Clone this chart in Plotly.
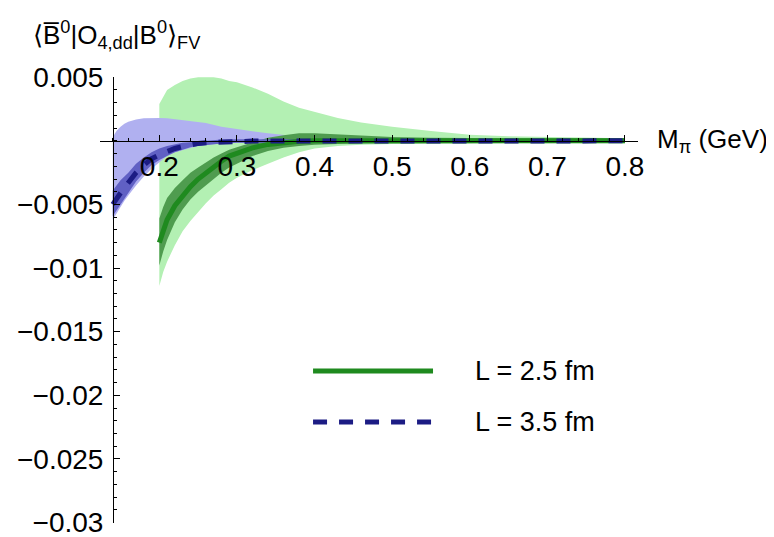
import plotly.graph_objects as go

# ---------------- data ----------------
# L = 2.5 fm  (green)
M_g = [0.2, 0.205, 0.21, 0.22, 0.23, 0.24, 0.25, 0.26, 0.27, 0.28, 0.29, 0.3,
       0.32, 0.34, 0.36, 0.38, 0.4, 0.43, 0.46, 0.5, 0.55, 0.6, 0.65, 0.7, 0.75, 0.8]
g_center = [-0.0080, -0.0070, -0.0062, -0.0051, -0.0043, -0.0036, -0.0030, -0.0025,
            -0.0020, -0.0016, -0.0012, -0.00095, -0.00055, -0.00028, -0.00012,
            -0.00004, 0.0, 0.00003, 0.00002, 0.00001, 0.0, 0.0, 0.0, 0.0, 0.0, 0.0]
g_inner_hi = [-0.0061, -0.0052, -0.0045, -0.0037, -0.0031, -0.0025, -0.0021, -0.0017,
              -0.0013, -0.0010, -0.0007, -0.0005, -0.0001, 0.00025, 0.00045, 0.0006,
              0.0006, 0.0005, 0.0004, 0.0003, 0.00025, 0.0002, 0.0002, 0.0002, 0.0002, 0.0002]
g_inner_lo = [-0.0098, -0.0087, -0.0078, -0.0064, -0.0054, -0.0046, -0.0040, -0.0035,
              -0.0030, -0.0025, -0.0021, -0.0018, -0.0012, -0.0008, -0.00055, -0.0004,
              -0.0003, -0.00025, -0.0002, -0.0002, -0.00018, -0.00016, -0.00016,
              -0.00016, -0.00016, -0.00016]
g_outer_hi = [0.0029, 0.0035, 0.0040, 0.0044, 0.0047, 0.0049, 0.0050, 0.0050, 0.0050,
              0.0049, 0.0047, 0.0046, 0.0042, 0.0037, 0.0031, 0.0026, 0.0023, 0.0018,
              0.00145, 0.0011, 0.00078, 0.00048, 0.00036, 0.0003, 0.00025, 0.0002]
g_outer_lo = [-0.0114, -0.0103, -0.0095, -0.0082, -0.0071, -0.0063, -0.0056, -0.0049,
              -0.0043, -0.0038, -0.0033, -0.0029, -0.0023, -0.0018, -0.0013, -0.0009,
              -0.0006, -0.0004, -0.0003, -0.00025, -0.0002, -0.00018, -0.00018,
              -0.00018, -0.00018, -0.00018]

# L = 3.5 fm  (blue)
M_b = [0.14, 0.145, 0.15, 0.155, 0.16, 0.17, 0.18, 0.19, 0.2, 0.21, 0.22, 0.23, 0.24,
       0.25, 0.26, 0.28, 0.3, 0.32, 0.34, 0.36, 0.38, 0.4, 0.45, 0.5, 0.55, 0.6, 0.7, 0.8]
b_center = [-0.0050, -0.0045, -0.0041, -0.0037, -0.0033, -0.0025, -0.0019, -0.0014,
            -0.0011, -0.0008, -0.0006, -0.00045, -0.0003, -0.0002, -0.00015, -0.00008,
            -0.00004, -0.00002, -0.00001, -0.00001, 0.0, 0.0, 0.0, 0.0, 0.0, 0.0, 0.0, 0.0]
b_inner_hi = [-0.0039, -0.0035, -0.0031, -0.0028, -0.0025, -0.0018, -0.0013, -0.0009,
              -0.0006, -0.0004, -0.00025, -0.00015, -0.0001, -0.00005, 0.0, 0.0001,
              0.00012, 0.00012, 0.00012, 0.00012, 0.00012, 0.00012, 0.0001, 0.0001,
              0.0001, 0.0001, 0.0001, 0.0001]
b_inner_lo = [-0.0059, -0.0054, -0.0049, -0.0045, -0.0041, -0.0032, -0.0025, -0.0019,
              -0.0015, -0.0012, -0.0009, -0.0007, -0.0005, -0.0004, -0.0003, -0.0002,
              -0.00015, -0.00012, -0.00012, -0.00012, -0.00012, -0.00012, -0.0001,
              -0.0001, -0.0001, -0.0001, -0.0001, -0.0001]
b_outer_hi = [0.0003, 0.0008, 0.0011, 0.00135, 0.0015, 0.00168, 0.00178, 0.0018, 0.0018,
              0.00177, 0.0017, 0.00165, 0.00157, 0.0015, 0.0014, 0.0011, 0.0009, 0.00075,
              0.0006, 0.00045, 0.00035, 0.00028, 0.00016, 0.0001, 0.00006, 0.00004,
              0.00002, 0.00001]
b_outer_lo = [-0.0062, -0.0057, -0.0052, -0.0047, -0.0043, -0.0035, -0.0028, -0.0022,
              -0.0017, -0.0012, -0.0009, -0.0007, -0.00055, -0.0004, -0.0003, -0.0002,
              -0.00015, -0.00012, -0.0001, -0.0001, -0.0001, -0.00008, -0.00005,
              -0.00003, -0.00002, -0.00001, 0.0, 0.0]

x_tick_vals = [0.2, 0.3, 0.4, 0.5, 0.6, 0.7, 0.8]
x_tick_text = ["0.2", "0.3", "0.4", "0.5", "0.6", "0.7", "0.8"]
x_minor_vals = [round(0.14 + 0.02 * i, 2) for i in range(34)]
y_tick_vals = [0.005, -0.005, -0.01, -0.015, -0.02, -0.025, -0.03]
y_tick_text = ["0.005", "\u22120.005", "\u22120.01", "\u22120.015", "\u22120.02",
               "\u22120.025", "\u22120.03"]
y_minor_vals = [round(0.005 - 0.001 * i, 3) for i in range(36)]
legend_labels = ["L = 2.5 fm", "L = 3.5 fm"]

# ---------------- styles ----------------
C_G_LIGHT = "#b3f0b3"
C_G_DARK = "#4f9c4f"
C_G_LINE = "#1f8a1f"
C_B_LIGHT = "#b0b0f0"
C_B_DARK = "#6060c4"
C_B_LINE = "#1c1c84"
DASH = "14px,12px"
FONT = "Liberation Sans, Arial, sans-serif"

X_RANGE = [0.12355, 0.8168]
Y_RANGE = [-0.03004, 0.00502]


def band(x, hi, lo, color):
    return go.Scatter(x=list(x) + list(x)[::-1], y=list(hi) + list(lo)[::-1],
                      fill="toself", fillcolor=color, mode="lines",
                      line=dict(width=0, color=color), hoverinfo="skip",
                      showlegend=False)


fig = go.Figure()
fig.add_trace(band(M_g, g_outer_hi, g_outer_lo, C_G_LIGHT))
fig.add_trace(band(M_b, b_outer_hi, b_outer_lo, C_B_LIGHT))
fig.add_trace(band(M_g, g_inner_hi, g_inner_lo, C_G_DARK))
fig.add_trace(band(M_b, b_inner_hi, b_inner_lo, C_B_DARK))
fig.add_trace(go.Scatter(x=M_g, y=g_center, mode="lines", name=legend_labels[0],
                         line=dict(color=C_G_LINE, width=5), showlegend=False))
fig.add_trace(go.Scatter(x=M_b, y=b_center, mode="lines", name=legend_labels[1],
                         line=dict(color=C_B_LINE, width=5, dash=DASH),
                         showlegend=False))

y0_pos = (0 - Y_RANGE[0]) / (Y_RANGE[1] - Y_RANGE[0])
x0_pos = (0.1403 - X_RANGE[0]) / (X_RANGE[1] - X_RANGE[0])

fig.update_layout(
    width=774, height=537,
    margin=dict(l=92, r=144, t=69, b=22, autoexpand=False),
    paper_bgcolor="white", plot_bgcolor="white",
    font=dict(family=FONT, size=28, color="black"),
    showlegend=False,
    xaxis=dict(range=X_RANGE, anchor="free", position=y0_pos, side="bottom",
               automargin=False, ticklabeloverflow="allow",
               showgrid=False, zeroline=False, showline=True, linecolor="black",
               linewidth=1, ticks="inside", ticklen=6, tickwidth=1,
               tickcolor="black", tickmode="array", tickvals=x_tick_vals,
               ticktext=x_tick_text, ticklabelstandoff=1,
               minor=dict(tickvals=x_minor_vals, ticks="inside", ticklen=3,
                          tickcolor="black", tickwidth=1, showgrid=False)),
    yaxis=dict(range=Y_RANGE, anchor="free", position=x0_pos, side="left",
               automargin=False, ticklabeloverflow="allow",
               showgrid=False, zeroline=False, showline=True, linecolor="black",
               linewidth=1, ticks="inside", ticklen=6, tickwidth=1,
               tickcolor="black", tickmode="array", tickvals=y_tick_vals,
               ticktext=y_tick_text, ticklabelstandoff=4,
               minor=dict(tickvals=y_minor_vals, ticks="inside", ticklen=3,
                          tickcolor="black", tickwidth=1, showgrid=False)),
)

# axis labels
fig.add_annotation(xref="paper", yref="paper", x=1.031, y=y0_pos, xanchor="left",
                   yanchor="middle", showarrow=False,
                   text="M<sub>\u03c0</sub> (GeV)", font=dict(size=26))
fig.add_annotation(xref="paper", yref="paper", x=-0.128, y=1.095, xanchor="left",
                   yanchor="middle", showarrow=False,
                   text="\u27e8B\u0305<sup>0</sup>|O<sub>4,dd</sub>|B<sup>0</sup>\u27e9<sub>FV</sub>",
                   font=dict(size=26))

# manual legend
leg_x0, leg_x1, leg_tx = 0.396, 0.619, 0.693
leg_y = [0.341, 0.2265]
fig.add_shape(type="line", xref="paper", yref="paper", x0=leg_x0, x1=leg_x1,
              y0=leg_y[0], y1=leg_y[0], line=dict(color=C_G_LINE, width=5))
fig.add_shape(type="line", xref="paper", yref="paper", x0=leg_x0, x1=leg_x1,
              y0=leg_y[1], y1=leg_y[1], line=dict(color=C_B_LINE, width=5, dash=DASH))
for lab, yy in zip(legend_labels, leg_y):
    fig.add_annotation(xref="paper", yref="paper", x=leg_tx, y=yy, xanchor="left",
                       yanchor="middle", showarrow=False, text=lab,
                       font=dict(size=27))

fig.write_html("out.html")
